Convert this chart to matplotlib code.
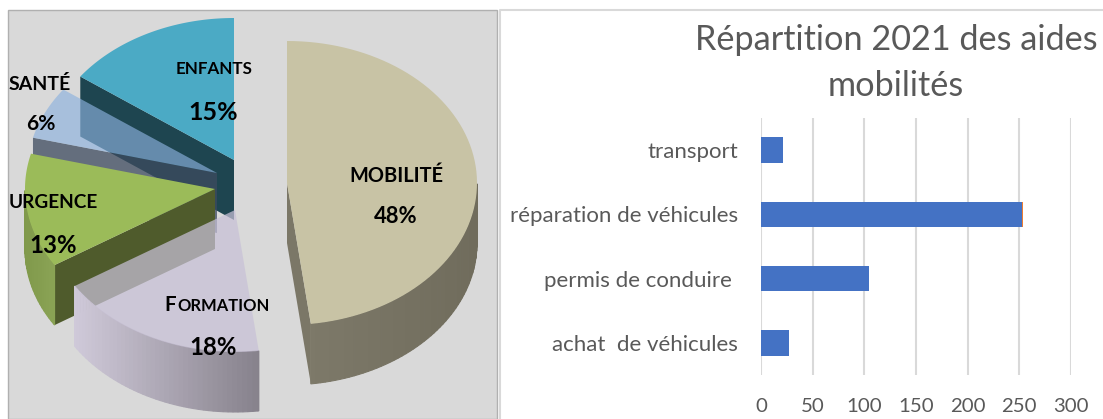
import numpy as np
import matplotlib
matplotlib.use("Agg")
import matplotlib.pyplot as plt
from matplotlib.patches import Polygon, Rectangle

# ---- data ----
pie_names = ["MOBILITÉ", "FORMATION", "URGENCE", "SANTÉ", "ENFANTS"]
pie_shares = [48, 18, 13, 6, 15]
bar_categories = ["achat  de véhicules", "permis de conduire ", "réparation de véhicules", "transport"]
bar_values = [27, 105, 253, 21]
bar_extra = [0, 0, 1, 0]
bar_ticks = [0, 50, 100, 150, 200, 250, 300]
title = "Répartition 2021 des aides\nmobilités"

# ---- style ----
W, H = 1103, 419
TXT = "#595959"
BG = "#d9d9d9"
centers = {"MOBILITÉ": (287, 183), "FORMATION": (235, 210), "URGENCE": (215, 189),
           "SANTÉ": (217, 173), "ENFANTS": (234, 160)}
RX, RY, DEPTH = 190, 142, 60
top_col = {"MOBILITÉ": (200/255, 195/255, 165/255, 1), "FORMATION": (200/255, 193/255, 215/255, .72),
           "URGENCE": (155/255, 187/255, 89/255, 1), "SANTÉ": (140/255, 178/255, 222/255, .65),
           "ENFANTS": (75/255, 170/255, 197/255, 1)}
radial_col = {"MOBILITÉ": (123/255, 119/255, 103/255, 1), "URGENCE": (79/255, 91/255, 44/255, 1),
              "SANTÉ": (61/255, 75/255, 95/255, .75), "ENFANTS": (30/255, 69/255, 80/255, 1)}
wall_grad = {"MOBILITÉ": ((125, 121, 105), (112, 108, 92)), "FORMATION": ((208, 202, 218), (135, 130, 140)),
             "URGENCE": ((128, 153, 75), (138, 163, 85))}
# name centre, percent centre, name size px, percent size px
label_pos = {"MOBILITÉ": ((396, 176), (396, 216), 20, 22), "FORMATION": ((213, 305), (213, 347), 16.5, 24),
             "URGENCE": ((53, 202), (53, 245), 19, 24), "SANTÉ": ((40, 84), (41, 124), 19.5, 21),
             "ENFANTS": ((214, 69), (213, 112), 17, 25)}
PIE_FONT = "Lato"

fig = plt.figure(figsize=(W / 100, H / 100), dpi=100, facecolor="white")

# ---- pie panel, in reference pixel units ----
ax = fig.add_axes([0, 0, 1, 1])
ax.set_xlim(0, W)
ax.set_ylim(H, 0)
ax.axis("off")
ax.add_patch(Rectangle((8, 10), 489, H - 10, fc=BG, ec="#b0b0b0", lw=1.0, zorder=0))


def pt(c, a):
    return (c[0] + RX * np.cos(np.radians(a)), c[1] - RY * np.sin(np.radians(a)))


# slice angle ranges: clockwise from 12 o'clock
spans, start = {}, 90.0
for n, s in zip(pie_names, pie_shares):
    spans[n] = (start - s * 3.6, start)
    start -= s * 3.6

for z, n in enumerate(["ENFANTS", "SANTÉ", "URGENCE", "FORMATION", "MOBILITÉ"]):
    a0, a1 = spans[n]
    c = centers[n]
    z0 = 2 + z * 2
    # radial wall on the lower edge of the slice
    if n in radial_col:
        e = a0 if n == "MOBILITÉ" else a1
        p = pt(c, e)
        ax.add_patch(Polygon([c, p, (p[0], p[1] + DEPTH), (c[0], c[1] + DEPTH)],
                             fc=radial_col[n], ec="none", zorder=z0))
    # outer curved wall, as facets
    if n in wall_grad:
        rng = np.append(np.arange(a0, a1, 1.5), a1)
        x_left = min(pt(c, a)[0] for a in rng if np.sin(np.radians(a)) <= 0)
        x_right = max(pt(c, a)[0] for a in rng if np.sin(np.radians(a)) <= 0)
        for u, v in zip(rng[:-1], rng[1:]):
            if np.sin(np.radians((u + v) / 2)) > 0:
                continue
            fr = (pt(c, (u + v) / 2)[0] - x_left) / (x_right - x_left)
            col = [(wall_grad[n][0][k] * (1 - fr) + wall_grad[n][1][k] * fr) / 255 for k in range(3)]
            pu, pv = pt(c, u), pt(c, v)
            ax.add_patch(Polygon([pu, pv, (pv[0], pv[1] + DEPTH), (pu[0], pu[1] + DEPTH)],
                                 fc=col, ec=col, lw=.8, zorder=z0 + 1))
    # top face
    xy = [c] + [pt(c, a) for a in np.linspace(a0, a1, 80)]
    ax.add_patch(Polygon(xy, fc=top_col[n], ec="none", zorder=z0 + 1.5))

for n, s in zip(pie_names, pie_shares):
    (p1, p2, f1, f2) = label_pos[n]
    if n == "FORMATION":
        ax.text(164, p1[1], "F", fontsize=f1 * .72 * 1.25, family=PIE_FONT, fontweight="bold",
                ha="left", va="center", color="black", zorder=30)
        ax.text(177, p1[1] + 1, "ORMATION", fontsize=f1 * .72, family=PIE_FONT, fontweight="bold",
                ha="left", va="center", color="black", zorder=30)
    else:
        ax.text(p1[0], p1[1], n, fontsize=f1 * .72, family=PIE_FONT, fontweight="bold",
                ha="center", va="center", color="black", zorder=30)
    ax.text(p2[0], p2[1], f"{s}%", fontsize=f2 * .72, family=PIE_FONT, fontweight="bold",
            ha="center", va="center", color="black", zorder=30)

# ---- bar chart frame ----
ax.plot([500, 500, W], [H, 10.5, 10.5], color=BG, lw=1.5, zorder=1)

bx = fig.add_axes([761 / W, 1 - 375 / H, 310 / W, 257 / H])
bx.set_xlim(0, 300)
y = np.arange(len(bar_categories))
bx.set_ylim(-0.5, len(bar_categories) - 0.5)
bx.barh(y, bar_values, height=0.4, color="#4472c4", zorder=3)
bx.barh(y, bar_extra, left=bar_values, height=0.4, color="#ed7d31", zorder=3)
bx.set_yticks(y, bar_categories)
bx.set_xticks(bar_ticks)
bx.grid(axis="x", color=BG, lw=1.5, zorder=0)
bx.set_axisbelow(True)
for sp in bx.spines.values():
    sp.set_visible(False)
bx.tick_params(axis="y", length=0, pad=16.5, labelsize=16, labelcolor=TXT, labelfontfamily="Lato")
bx.tick_params(axis="x", length=0, pad=16.5, labelsize=14.7, labelcolor=TXT, labelfontfamily="Lato")
bx.patch.set_alpha(0)

fig.text(896 / W, 1 - 63 / H, title, ha="center", va="center", fontsize=24.7, color=TXT,
         family="Lato", linespacing=1.5)

fig.savefig("out.png", dpi=100)
